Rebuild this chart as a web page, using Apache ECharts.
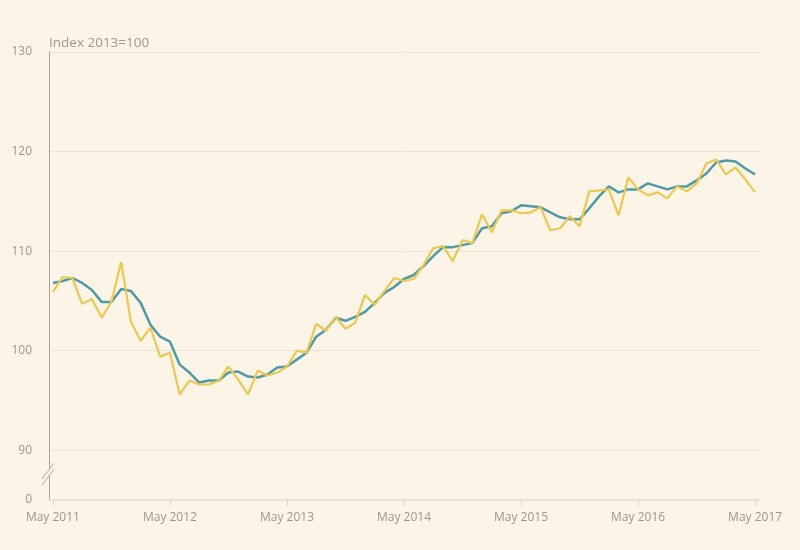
<!DOCTYPE html>
<html>
<head>
<meta charset="utf-8">
<script src="https://cdn.jsdelivr.net/npm/echarts@6/dist/echarts.min.js"></script>
<style>
html,body{margin:0;padding:0;background:#fcf4e6;}
#chart{width:800px;height:550px;}
</style>
</head>
<body>
<div id="chart"></div>
<script>
// Month index 0 = May 2011 ... 72 = May 2017
const tickLabels = ["May 2011","May 2012","May 2013","May 2014","May 2015","May 2016","May 2017"];
const tickMonths = [0,12,24,36,48,60,72];
const yTicks = [90,100,110,120,130];
const yLabelValues = [85,90,100,110,120,130];

const monthly = [105.9,107.4,107.3,104.7,105.2,103.3,104.9,108.9,102.9,101.0,102.3,99.4,
  99.8,95.6,97.0,96.6,96.6,97.0,98.4,97.1,95.6,98.0,97.5,97.8,
  98.4,100.0,99.8,102.7,102.0,103.4,102.2,102.8,105.6,104.6,106.0,107.3,
  107.0,107.2,108.6,110.3,110.5,109.0,111.1,110.8,113.7,111.9,114.1,114.1,
  113.8,113.9,114.4,112.1,112.3,113.5,112.5,116.0,116.1,116.2,113.6,117.4,
  116.2,115.6,115.9,115.3,116.5,116.0,116.8,118.8,119.2,117.7,118.4,117.2,
  115.9];
const smoothed = [106.8,107.0,107.3,106.8,106.1,104.9,104.9,106.2,106.0,104.8,102.6,101.4,
  100.9,98.6,97.8,96.8,97.0,97.0,97.8,97.9,97.4,97.3,97.6,98.3,
  98.4,99.1,99.8,101.4,102.1,103.3,103.0,103.4,103.9,104.8,105.8,106.4,
  107.2,107.6,108.5,109.5,110.4,110.4,110.6,110.8,112.3,112.5,113.8,114.0,
  114.6,114.5,114.4,113.9,113.4,113.2,113.2,114.3,115.5,116.5,115.9,116.2,
  116.2,116.8,116.5,116.2,116.5,116.5,117.1,117.8,118.9,119.1,119.0,118.3,
  117.7];

const BG = '#fcf4e6';
const TXT = '#9d968b';
const chart = echarts.init(document.getElementById('chart'));
const option = {
  backgroundColor: BG,
  animation: false,
  grid: {left: 49, right: 40, top: 52, bottom: 50, containLabel: false},
  title: {
    text: 'Index 2013=100', left: 49, top: 36, padding: 0,
    textStyle: {color: TXT, fontSize: 13.5, fontWeight: 'normal', fontFamily: 'Open Sans'}
  },
  xAxis: {
    type: 'value', min: -0.4, max: 72.5,
    splitLine: {show: false},
    axisLine: {show: true, onZero: false, lineStyle: {color: '#e6ddcd', width: 1.5}},
    axisTick: {show: true, customValues: tickMonths, length: 6, lineStyle: {color: '#ddd4c4'}},
    axisLabel: {
      customValues: tickMonths, color: TXT, fontSize: 12, fontFamily: 'Open Sans', margin: 12,
      formatter: v => tickLabels[tickMonths.indexOf(Math.round(v))] || ''
    }
  },
  yAxis: {
    type: 'value', min: 85, max: 130,
    axisLine: {show: true, onZero: false, lineStyle: {color: '#a8a196', width: 1}},
    axisTick: {show: false, customValues: yTicks},
    axisLabel: {
      customValues: yLabelValues, color: TXT, fontSize: 12, fontFamily: 'Open Sans', margin: 17,
      formatter: v => v === 85 ? '0' : String(v)
    },
    splitLine: {show: true, lineStyle: {color: '#ece3d3', width: 1}}
  },
  series: [
    {type: 'line', name: '3-month average', data: smoothed.map((v,i)=>[i,v]), symbol: 'none',
     lineStyle: {color: '#4f9aa6', width: 2.5}, z: 2},
    {type: 'line', name: 'Monthly', data: monthly.map((v,i)=>[i,v]), symbol: 'none',
     lineStyle: {color: '#ebc852', width: 2.2}, z: 3}
  ]
};
chart.setOption(option);

// axis break marks
const p = chart.convertToPixel({gridIndex: 0}, [-0.4, 87.6]);
const bx = p[0], by = p[1];
chart.setOption({
  graphic: [
    {type: 'polygon', z: 100, shape: {points: [[bx-7, by+5], [bx+5, by-11], [bx+5, by-5], [bx-7, by+11]]},
     style: {fill: BG}},
    {type: 'line', z: 101, shape: {x1: bx-7, y1: by+5, x2: bx+5, y2: by-11}, style: {stroke: '#c9c1b4', lineWidth: 1.2}},
    {type: 'line', z: 101, shape: {x1: bx-7, y1: by+11, x2: bx+5, y2: by-5}, style: {stroke: '#c9c1b4', lineWidth: 1.2}}
  ]
});
</script>
</body>
</html>
